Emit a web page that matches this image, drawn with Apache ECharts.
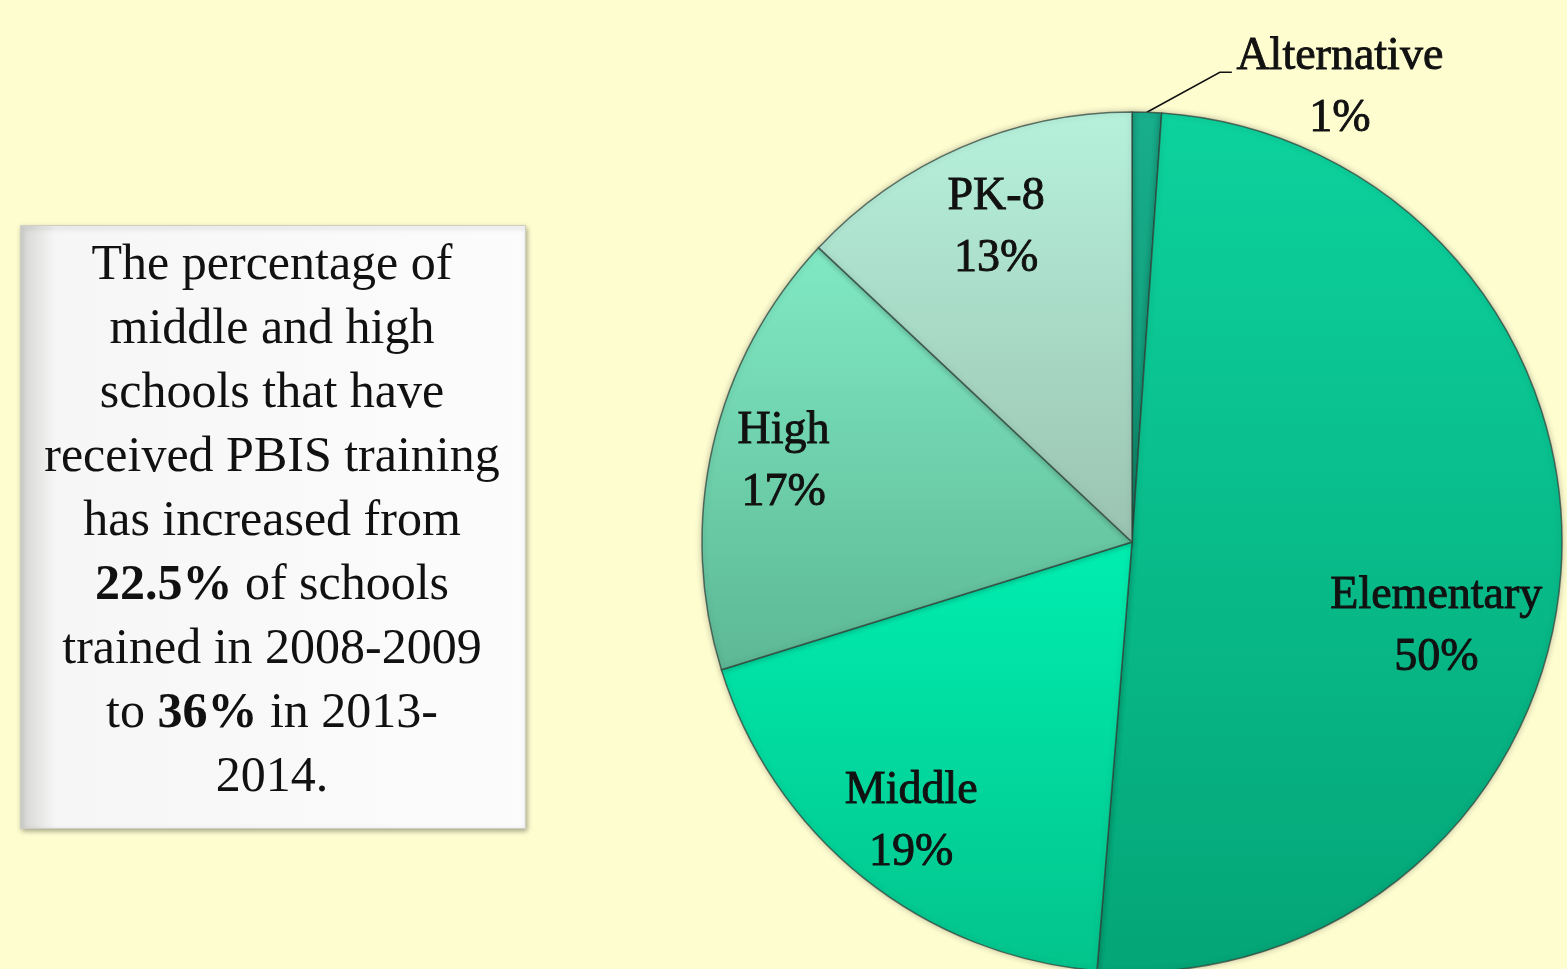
<!DOCTYPE html>
<html lang="en">
  <head>
    <meta charset="UTF-8" />
    <title>PBIS schools by level</title>
    <script src="https://cdn.jsdelivr.net/npm/echarts@6/dist/echarts.min.js"></script>
    <style>
      html, body { margin: 0; padding: 0; background: #fefdd0; }
      #main { width: 1567px; height: 969px; }
    </style>
  </head>
  <body>
    <div id="main"></div>
    <script>
      // school levels, share of trained schools (%)
      const levels = ['Alternative', 'Elementary', 'Middle', 'High', 'PK-8'];
      const shares = [1.1, 50.2, 18.9, 16.8, 13.0];
      const noteLines = [
        'The percentage of',
        'middle and high',
        'schools that have',
        'received PBIS training',
        'has increased from',
        '{b|22.5%} of schools',
        'trained in 2008-2009',
        'to {b|36%} in 2013-',
        '2014.'
      ];

      const topColors = ['#18ad8b', '#0dd29d', '#00eeb0', '#80e9c4', '#b6f1dc'];
      const bottomColors = ['#109a78', '#04a577', '#03c48c', '#5db895', '#9bc3b1'];
      const labelScale = [1, 1.4, 1.62, 1.64, 1.57];
      const labelShift = [0, 62, 4, 0, 0];

      const cx = 1132, cy = 542, radius = 430;
      const font = '"Liberation Serif", "DejaVu Serif", serif';

      const chart = echarts.init(document.getElementById('main'));

      const pieData = levels.map(function (name, i) {
        const item = {
          name: name,
          value: shares[i],
          itemStyle: {
            color: new echarts.graphic.LinearGradient(0, 0, 0, 1, [
              { offset: 0, color: topColors[i] },
              { offset: 1, color: bottomColors[i] }
            ])
          }
        };
        if (i === 0) {
          item.label = { position: 'outside' };
          item.labelLine = { show: true };
        }
        return item;
      });

      const option = {
        backgroundColor: '#fefdd0',
        graphic: [
          {
            type: 'rect',
            left: 20,
            top: 225,
            shape: { width: 505, height: 603 },
            style: {
              fill: new echarts.graphic.LinearGradient(0, 0, 1, 0, [
                { offset: 0, color: '#d4d4d2' },
                { offset: 0.07, color: '#f6f6f6' },
                { offset: 1, color: '#fcfcfc' }
              ]),
              stroke: '#cfcfc4',
              lineWidth: 1,
              shadowBlur: 5,
              shadowOffsetX: 1,
              shadowOffsetY: 2,
              shadowColor: 'rgba(0,0,0,0.35)'
            },
            z: 1
          },
          {
            type: 'text',
            x: 272,
            y: 522,
            style: {
              text: noteLines.join('\n'),
              fontFamily: font,
              fontSize: 50,
              lineHeight: 64,
              fill: '#111',
              align: 'center',
              verticalAlign: 'middle',
              rich: {
                b: { fontFamily: font, fontSize: 50, lineHeight: 64, fontWeight: 'bold', fill: '#111' }
              }
            },
            z: 2
          }
        ],
        series: [
          {
            type: 'pie',
            center: [cx, cy],
            radius: [0, radius],
            startAngle: 90,
            clockwise: true,
            percentPrecision: 0,
            avoidLabelOverlap: false,
            data: pieData,
            itemStyle: {
              borderColor: 'rgba(50,70,60,0.75)',
              borderWidth: 1.5,
              shadowBlur: 6,
              shadowColor: 'rgba(0,0,0,0.25)'
            },
            label: {
              show: true,
              position: 'inside',
              formatter: '{b}\n{d}%',
              fontFamily: font,
              fontSize: 46,
              lineHeight: 62,
              color: '#111',
              textBorderColor: '#111',
              textBorderWidth: 0.9
            },
            labelLine: {
              show: false,
              lineStyle: { color: '#111', width: 1.5 }
            },
            emphasis: { disabled: true },
            labelLayout: function (params) {
              const i = params.dataIndex;
              const r = params.labelRect;
              if (i === 0) {
                const p0 = params.labelLinePoints[0];
                return {
                  x: p0[0] + 193,
                  y: p0[1] - 24,
                  align: 'center',
                  verticalAlign: 'middle',
                  labelLinePoints: [
                    [p0[0], p0[1]],
                    [p0[0] + 73, p0[1] - 40],
                    [p0[0] + 85, p0[1] - 40]
                  ]
                };
              }
              const lx = r.x + r.width / 2;
              const ly = r.y + r.height / 2;
              return {
                x: cx + (lx - cx) * labelScale[i],
                y: cy + (ly - cy) * labelScale[i] + labelShift[i],
                align: 'center',
                verticalAlign: 'middle'
              };
            }
          }
        ]
      };
      chart.setOption(option);
    </script>
  </body>
</html>
